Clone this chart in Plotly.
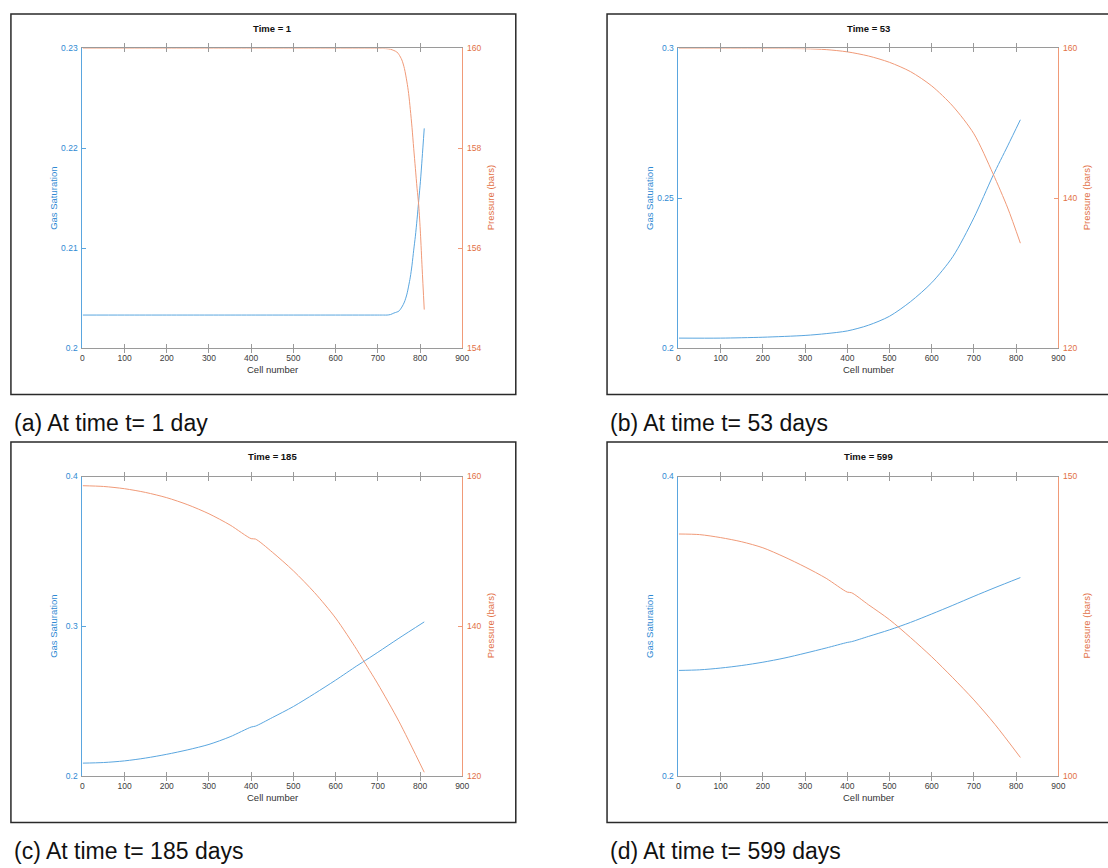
import plotly.graph_objects as go

W, H = 1108, 868

# ---------------- data ----------------
# (a) Time = 1
cell_a = [1, 100, 200, 300, 400, 500, 600, 700, 714, 722, 730, 738, 745, 750, 757,
          763, 769, 773, 777, 781, 785, 789, 793, 797, 801, 805, 810]
sg_a = [0.2033, 0.2033, 0.2033, 0.2033, 0.2033, 0.2033, 0.2033, 0.2033, 0.2033, 0.2033,
        0.20335, 0.2035, 0.2036, 0.2037, 0.2041, 0.2046, 0.2054, 0.2062, 0.2071, 0.2083,
        0.2098, 0.2112, 0.2129, 0.2148, 0.2167, 0.2190, 0.2220]
p_a = [160.0, 160.0, 160.0, 160.0, 160.0, 160.0, 160.0, 160.0, 160.0, 159.995,
       159.985, 159.96, 159.93, 159.88, 159.77, 159.6, 159.33, 159.1, 158.78, 158.42,
       158.0, 157.6, 157.2, 156.85, 156.3, 155.6, 154.77]

# (b) Time = 53
cell_b = [1, 100, 200, 300, 350, 400, 450, 500, 550, 600, 650, 700, 745, 780, 810]
sg_b = [0.2033, 0.2033, 0.2036, 0.2042, 0.2048, 0.2057, 0.2076, 0.2106, 0.2155, 0.2218,
        0.2305, 0.2435, 0.2575, 0.2675, 0.2762]
p_b = [160.0, 160.0, 160.0, 159.97, 159.85, 159.55, 159.0, 158.15, 156.9, 155.0,
       152.3, 148.6, 143.3, 138.7, 134.0]

# (c) Time = 185
cell_c = [1, 50, 100, 150, 200, 250, 300, 350, 400, 410, 450, 500, 550, 600, 650, 664,
          700, 750, 810]
sg_c = [0.2086, 0.2090, 0.2101, 0.2120, 0.2145, 0.2175, 0.2211, 0.2262, 0.2327, 0.2333,
        0.2390, 0.2464, 0.2550, 0.2640, 0.2735, 0.2760, 0.2826, 0.2920, 0.3029]
p_c = [158.77, 158.67, 158.37, 157.87, 157.17, 156.22, 155.02, 153.52, 151.7, 151.65,
       149.9, 147.4, 144.5, 141.1, 136.9, 135.6, 132.3, 127.3, 120.5]

# (d) Time = 599
cell_d = [1, 50, 100, 150, 200, 250, 300, 350, 400, 410, 450, 500, 550, 600, 650,
          700, 750, 810]
sg_d = [0.2705, 0.2709, 0.2721, 0.2738, 0.2760, 0.2787, 0.2820, 0.2855, 0.2892, 0.2897,
        0.2932, 0.2976, 0.3026, 0.3082, 0.3140, 0.3200, 0.3258, 0.3325]
p_d = [140.4, 140.3, 139.8, 139.1, 138.1, 136.6, 134.9, 133.0, 130.7, 130.6,
       128.6, 126.1, 123.1, 119.9, 116.4, 112.7, 108.6, 103.1]

x_ticks = [0, 100, 200, 300, 400, 500, 600, 700, 800, 900]

panels = [
    dict(title="Time = 1", caption="(a) At time t= 1 day", cell=cell_a, sg=sg_a, p=p_a,
         sg_range=[0.2, 0.23], sg_ticks=[0.2, 0.21, 0.22, 0.23],
         p_range=[154, 160], p_ticks=[154, 156, 158, 160], dx=0, dy=0),
    dict(title="Time = 53", caption="(b) At time t= 53 days", cell=cell_b, sg=sg_b, p=p_b,
         sg_range=[0.2, 0.3], sg_ticks=[0.2, 0.25, 0.3],
         p_range=[120, 160], p_ticks=[120, 140, 160], dx=601, dy=0),
    dict(title="Time = 185", caption="(c) At time t= 185 days", cell=cell_c, sg=sg_c, p=p_c,
         sg_range=[0.2, 0.4], sg_ticks=[0.2, 0.3, 0.4],
         p_range=[120, 160], p_ticks=[120, 140, 160], dx=0, dy=433),
    dict(title="Time = 599", caption="(d) At time t= 599 days", cell=cell_d, sg=sg_d, p=p_d,
         sg_range=[0.2, 0.4], sg_ticks=[0.2, 0.4],
         p_range=[100, 150], p_ticks=[100, 150], dx=601, dy=433),
]

FONT = "Liberation Sans, Arial, Helvetica, sans-serif"
BLUE_TXT = "#2f8ad3"
BLUE_LINE = "#5aa6df"
ORANGE_TXT = "#e27045"
ORANGE_LINE = "#f09a78"
GREY = "#9a9a9a"
TICK_TXT = "#404040"


def fx(px):
    return px / W


def fy(py):
    return 1 - py / H


fig = go.Figure()
layout = dict(width=W, height=H, margin=dict(l=0, r=0, t=0, b=0),
              paper_bgcolor="white", plot_bgcolor="white", showlegend=False,
              font=dict(family=FONT))
annotations = []
shapes = []

for i, pn in enumerate(panels):
    n = i + 1
    xa = "x" if n == 1 else f"x{n}"
    yl_id, yr_id = 2 * i + 1, 2 * i + 2
    yl = "y" if yl_id == 1 else f"y{yl_id}"
    yr = f"y{yr_id}"

    left, right = 81 + pn["dx"], 464 + pn["dx"]
    top, bottom = 44 + pn["dy"], 347 + pn["dy"]

    layout["xaxis" if n == 1 else f"xaxis{n}"] = dict(
        domain=[fx(left), fx(right)], anchor=yl, range=[0, 900],
        tickvals=x_ticks, ticks="inside", ticklen=4, tickcolor=GREY,
        showline=True, linecolor=GREY, linewidth=1, mirror="allticks",
        showgrid=False, zeroline=False,
        tickfont=dict(size=8.5, color=TICK_TXT, family=FONT), ticklabelstandoff=2)
    layout["yaxis" if yl_id == 1 else f"yaxis{yl_id}"] = dict(
        domain=[fy(bottom), fy(top)], anchor=xa, range=pn["sg_range"],
        tickvals=pn["sg_ticks"], ticks="inside", ticklen=4, tickcolor=BLUE_LINE,
        showline=True, linecolor=BLUE_LINE, linewidth=1,
        showgrid=False, zeroline=False,
        tickfont=dict(size=8.5, color=BLUE_TXT, family=FONT), ticklabelstandoff=2)
    layout[f"yaxis{yr_id}"] = dict(
        domain=[fy(bottom), fy(top)], anchor=xa, overlaying=yl, side="right",
        range=pn["p_range"], tickvals=pn["p_ticks"], ticks="inside", ticklen=4,
        tickcolor=ORANGE_LINE, showline=True, linecolor=ORANGE_LINE, linewidth=1,
        showgrid=False, zeroline=False,
        tickfont=dict(size=8.5, color=ORANGE_TXT, family=FONT), ticklabelstandoff=2)

    fig.add_trace(go.Scatter(x=pn["cell"], y=pn["sg"], mode="lines", xaxis=xa, yaxis=yl,
                             line=dict(color=BLUE_LINE, width=1, shape="spline",
                                       smoothing=0.8),
                             name="Gas Saturation"))
    fig.add_trace(go.Scatter(x=pn["cell"], y=pn["p"], mode="lines", xaxis=xa, yaxis=yr,
                             line=dict(color=ORANGE_LINE, width=1, shape="spline",
                                       smoothing=0.8),
                             name="Pressure"))

    cx = (left + right) / 2
    cy = (top + bottom) / 2
    annotations += [
        dict(text=f"<b>{pn['title']}</b>", x=fx(cx), y=fy(top - 20), xref="paper",
             yref="paper", showarrow=False, xanchor="center", yanchor="middle",
             font=dict(size=9.5, color="#111111", family=FONT)),
        dict(text="Cell number", x=fx(cx), y=fy(bottom + 22), xref="paper", yref="paper",
             showarrow=False, xanchor="center", yanchor="middle",
             font=dict(size=9.5, color="#333333", family=FONT)),
        dict(text="Gas Saturation", x=fx(left - 29), y=fy(cy), xref="paper", yref="paper",
             showarrow=False, textangle=-90, xanchor="center", yanchor="middle",
             font=dict(size=9.5, color=BLUE_TXT, family=FONT)),
        dict(text="Pressure (bars)", x=fx(right + 28), y=fy(cy), xref="paper",
             yref="paper", showarrow=False, textangle=-90, xanchor="center",
             yanchor="middle", font=dict(size=9.5, color=ORANGE_TXT, family=FONT)),
        dict(text=pn["caption"], x=fx(10 + pn["dx"]), y=fy(423 + pn["dy"]), xref="paper",
             yref="paper", showarrow=False, xanchor="left", yanchor="middle",
             font=dict(size=23, color="#111111", family=FONT)),
    ]

    # frame around each sub-figure
    bx0, bx1 = 9 + pn["dx"], 518 + pn["dx"] + (600 if pn["dx"] else 0)
    by0, by1 = 9 + pn["dy"], 394 + pn["dy"]
    shapes.append(dict(type="rect", xref="paper", yref="paper",
                       x0=fx(bx0), x1=fx(bx1), y0=fy(by1), y1=fy(by0),
                       line=dict(color="#2a2a2a", width=1.5), layer="below"))

layout["annotations"] = annotations
layout["shapes"] = shapes
fig.update_layout(**layout)
fig.write_html("out.html")
